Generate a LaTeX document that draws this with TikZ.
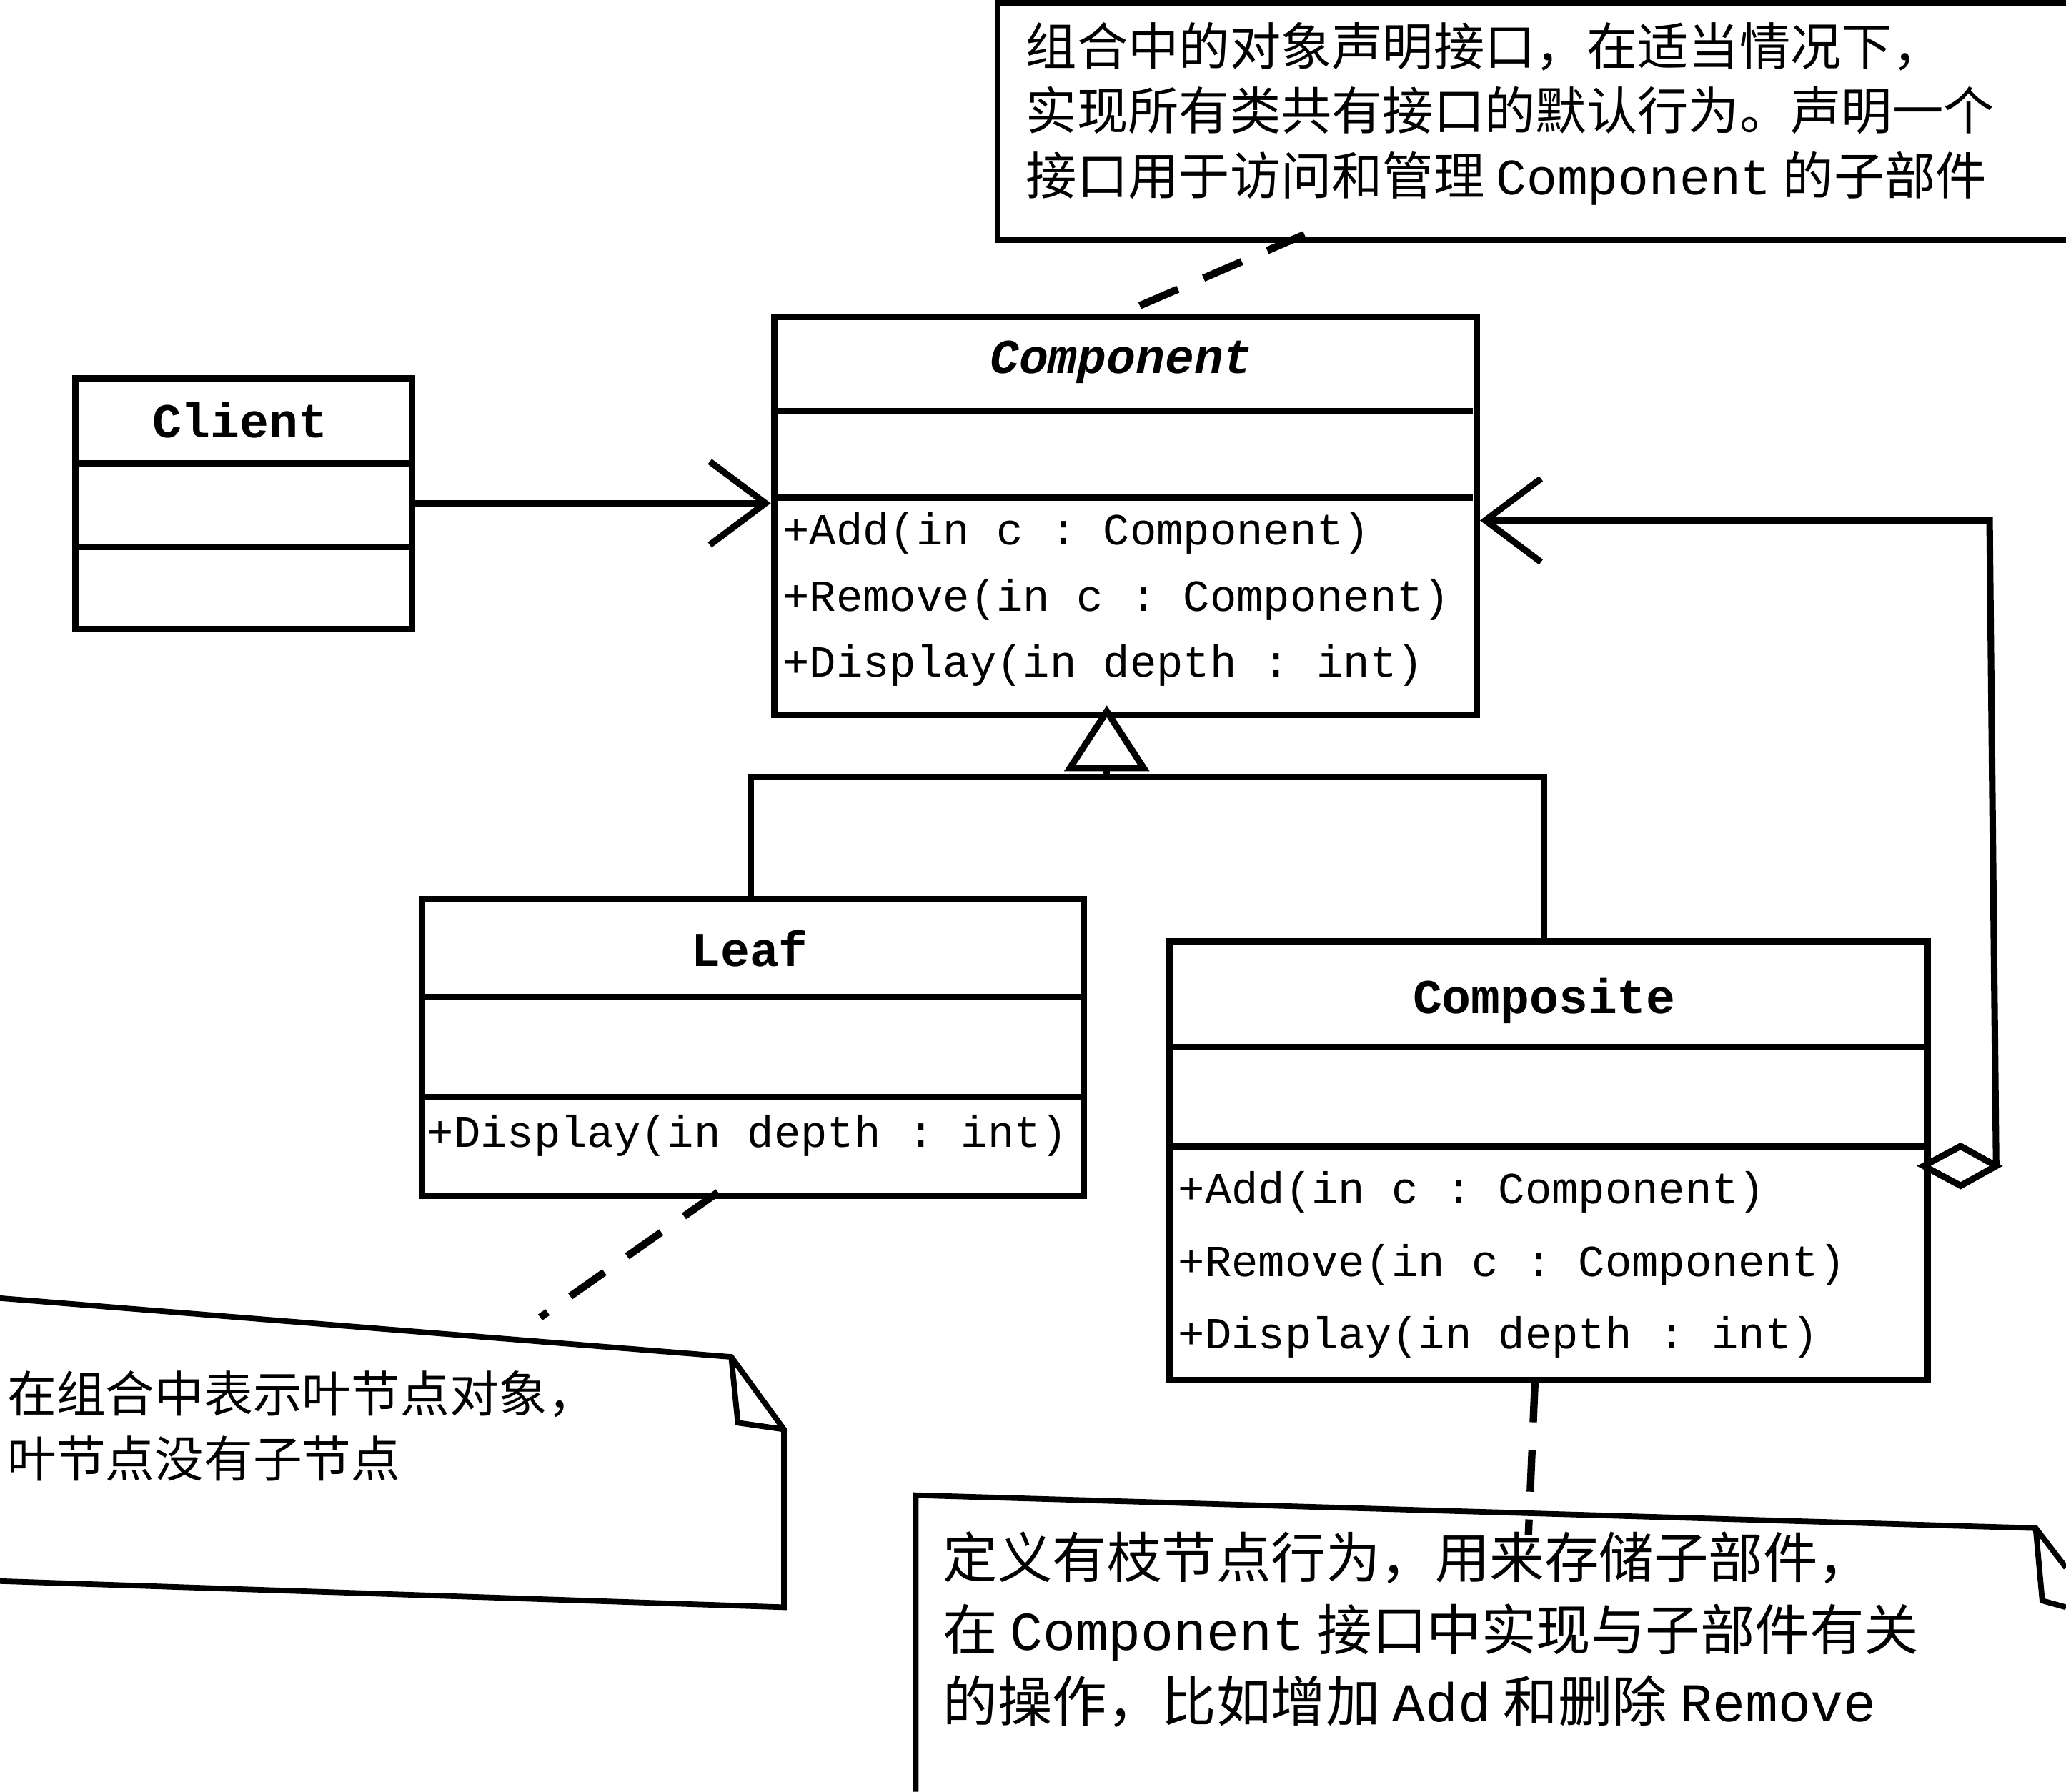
\documentclass[tikz,border=0pt]{standalone}
\usepackage{fontspec}
\setmonofont{Liberation Mono}
\newfontfamily\cjk{Noto Sans CJK SC}
\usetikzlibrary{arrows.meta}
\tikzset{
 box/.style={draw,line width=1.4pt,anchor=north west,inner sep=0pt},
 ln/.style={line width=1.4pt},
 op/.style={anchor=west,font=\ttfamily\fontsize{9.6}{11}\selectfont,inner sep=1pt},
 ttl/.style={font=\ttfamily\bfseries\fontsize{10.5}{12}\selectfont},
 note/.style={anchor=north west,align=left,font=\cjk\fontsize{11}{14}\selectfont,inner sep=0pt},
 dsh/.style={line width=1.6pt,dash pattern=on 9pt off 6pt},
 oa/.style={-{Straight Barb[length=12pt,width=18pt,line width=1.4pt]},ln}
}
\begin{document}
\begin{tikzpicture}[x=0.01cm,y=-0.01cm]
\useasboundingbox (0,0) rectangle (1568,1360);
% Client
\node[box,minimum width=2.55cm,minimum height=1.9cm] (cl) at (55,285) {};
\draw[ln] (55,352) -- (310,352) (55,415) -- (310,415);
\node[ttl] (clt) at (182,319) {Client};
% Component
\node[box,minimum width=5.33cm,minimum height=3.02cm] (co) at (585,238) {};
\draw[ln] (585,312) -- (1118,312) (585,378) -- (1118,378);
\node[ttl,font=\ttfamily\bfseries\itshape\fontsize{10.5}{12}\selectfont] (cot) at (851,275) {Component};
\node[op] (co1) at (590,405) {+Add(in c : Component)};
\node[op] (co2) at (590,455) {+Remove(in c : Component)};
\node[op] (co3) at (590,505) {+Display(in depth : int)};
% Leaf
\node[box,minimum width=5.02cm,minimum height=2.25cm] (lf) at (318,680) {};
\draw[ln] (318,757) -- (820,757) (318,833) -- (820,833);
\node[ttl] (lft) at (569,720) {Leaf};
\node[op] (lf1) at (320,862) {+Display(in depth : int)};
% Composite
\node[box,minimum width=5.75cm,minimum height=3.33cm] (cp) at (885,712) {};
\draw[ln] (885,795) -- (1460,795) (885,870) -- (1460,870);
\node[ttl] (cpt) at (1172,760) {Composite};
\node[op] (cp1) at (890,905) {+Add(in c : Component)};
\node[op] (cp2) at (890,960) {+Remove(in c : Component)};
\node[op] (cp3) at (890,1015) {+Display(in depth : int)};
% association Client -> Component
\draw[oa] (cl.east |- 0,382) -- (co.west |- 0,382);
% generalization
\coordinate (tri) at (840,583);
\draw[ln] (lf.north -| 570,0) -- (570,590) -- (1172,590) -- (cp.north -| 1172,0);
\draw[ln] (840,590) -- (tri);
\draw[ln,fill=white] (840,540) -- (812,583) -- (868,583) -- cycle;
% aggregation
\coordinate (dm) at (1515,885);
\draw[ln,fill=white] (1460,885) -- (1488,870) -- (1515,885) -- (1488,900) -- cycle;
\draw[oa] (dm) -- (1510,395) -- (co.east |- 0,395);
% notes
\node[draw,line width=1.2pt,minimum width=8.3cm,minimum height=1.8cm,anchor=north west] (n1) at (755,0) {};
\node[note] (n1t) at (778,16) {组合中的对象声明接口，在适当情况下，\\实现所有类共有接口的默认行为。声明一个\\接口用于访问和管理 {\ttfamily Component} 的子部件};
\draw[dsh] (865,232) -- (990,178);
\draw[line width=1.2pt] (-5,985) -- (555,1030) -- (595,1085) -- (595,1220) -- (-5,1200);
\draw[line width=1.2pt] (555,1030) -- (560,1080) -- (595,1085);
\node[note,font=\cjk\fontsize{10.6}{14}\selectfont] (n2t) at (5,1040) {在组合中表示叶节点对象，\\叶节点没有子节点};
\draw[dsh] (545,905) -- (410,1000);
\draw[line width=1.2pt] (695,1360) -- (695,1135) -- (1545,1160) -- (1568,1190);
\draw[line width=1.2pt] (1545,1160) -- (1550,1215) -- (1568,1220);
\node[note,font=\cjk\fontsize{11.8}{15.5}\selectfont] (n3t) at (715,1162) {定义有枝节点行为，用来存储子部件，\\在 {\ttfamily Component} 接口中实现与子部件有关\\的操作，比如增加 {\ttfamily Add} 和删除 {\ttfamily Remove}};
\draw[dsh] (1165,1048) -- (1160,1165);
\end{tikzpicture}
\end{document}
